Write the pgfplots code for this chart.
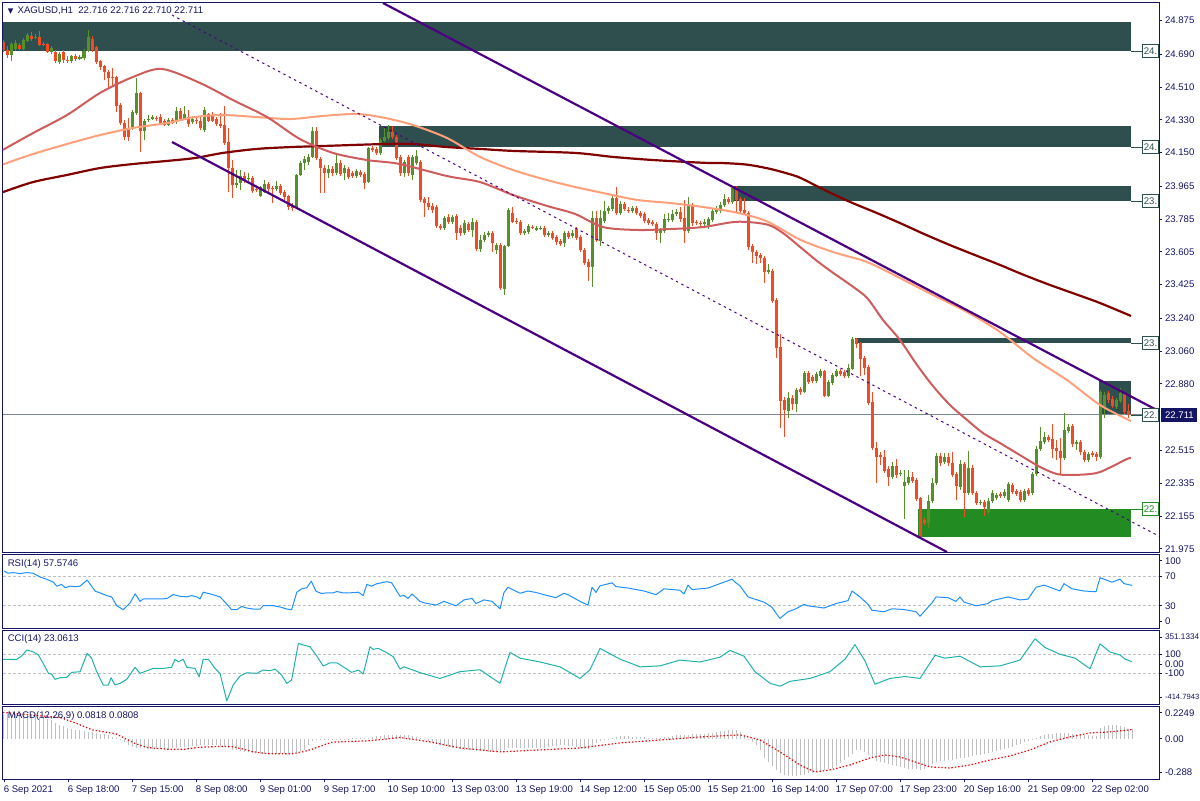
\documentclass[border=0pt]{standalone}
\usepackage{pgfplots}
\pgfplotsset{compat=1.18}
\usepackage{pgfplotstable}
\usepackage{fontspec}
\setmainfont{Liberation Sans}
\newfontfamily\dejavu{DejaVu Sans}
\definecolor{navy}{RGB}{20,20,100}
\definecolor{upc}{RGB}{85,145,40}
\definecolor{dnc}{RGB}{240,75,35}
\definecolor{maA}{RGB}{128,0,0}
\definecolor{maB}{RGB}{255,160,122}
\definecolor{maC}{RGB}{205,92,92}
\definecolor{chan}{RGB}{75,0,130}
\definecolor{slate}{RGB}{47,79,79}
\definecolor{fgreen}{RGB}{34,139,34}
\definecolor{rsic}{RGB}{30,144,255}
\definecolor{ccic}{RGB}{32,178,170}
\definecolor{histc}{RGB}{192,192,192}
\definecolor{pricel}{RGB}{119,136,153}
\newcommand{\fs}{\fontsize{4.8}{5.5}\selectfont}

\pgfplotstableread{
i o h l c
2 24.686 24.757 24.653 24.746
3 24.719 24.768 24.708 24.751
5 24.719 24.779 24.713 24.768
6 24.762 24.806 24.757 24.795
8 24.779 24.801 24.773 24.784
12 24.702 24.735 24.691 24.724
14 24.647 24.702 24.636 24.691
17 24.653 24.686 24.642 24.680
19 24.664 24.686 24.658 24.675
20 24.669 24.719 24.658 24.708
21 24.708 24.823 24.702 24.784
32 24.285 24.384 24.274 24.373
33 24.367 24.559 24.356 24.477
35 24.268 24.334 24.219 24.323
36 24.329 24.356 24.318 24.334
37 24.334 24.356 24.329 24.345
41 24.301 24.340 24.296 24.329
43 24.318 24.400 24.307 24.378
45 24.334 24.406 24.329 24.362
47 24.318 24.351 24.307 24.334
50 24.274 24.400 24.263 24.384
58 23.972 24.054 23.955 23.983
59 23.983 24.054 23.944 24.021
61 24.005 24.038 23.994 24.010
64 23.911 23.966 23.906 23.961
65 23.933 23.999 23.928 23.977
68 23.950 23.994 23.939 23.966
73 23.846 24.032 23.840 24.027
74 24.027 24.104 24.021 24.093
75 24.093 24.131 24.054 24.115
76 24.098 24.142 24.082 24.126
77 24.126 24.290 24.120 24.268
81 24.038 24.082 24.010 24.060
83 24.038 24.148 24.027 24.093
85 24.038 24.082 23.999 24.065
88 24.021 24.060 24.010 24.049
91 23.988 24.180 23.983 24.175
94 24.148 24.230 24.137 24.219
95 24.213 24.290 24.208 24.235
96 24.230 24.301 24.219 24.263
100 24.038 24.109 24.016 24.098
102 24.027 24.137 23.999 24.126
103 24.093 24.164 24.082 24.131
110 23.736 23.802 23.725 23.791
112 23.769 23.807 23.758 23.796
115 23.708 23.780 23.697 23.763
117 23.725 23.791 23.686 23.769
119 23.621 23.697 23.604 23.670
120 23.670 23.714 23.659 23.697
121 23.697 23.719 23.686 23.708
123 23.615 23.653 23.593 23.642
125 23.401 23.642 23.368 23.637
126 23.637 23.846 23.632 23.835
130 23.708 23.730 23.697 23.719
131 23.714 23.758 23.703 23.747
133 23.725 23.747 23.719 23.736
134 23.730 23.747 23.725 23.736
136 23.697 23.719 23.686 23.708
140 23.653 23.719 23.632 23.708
142 23.692 23.725 23.681 23.708
147 23.522 23.829 23.412 23.791
149 23.664 23.835 23.637 23.791
150 23.774 23.884 23.763 23.829
151 23.829 23.857 23.813 23.846
152 23.840 23.911 23.829 23.900
154 23.818 23.884 23.807 23.868
157 23.829 23.857 23.818 23.846
164 23.708 23.736 23.653 23.725
165 23.719 23.813 23.708 23.785
166 23.780 23.818 23.769 23.785
167 23.780 23.835 23.769 23.813
168 23.813 23.840 23.802 23.824
171 23.719 23.906 23.708 23.862
175 23.758 23.785 23.736 23.769
176 23.752 23.796 23.730 23.785
177 23.780 23.840 23.769 23.829
178 23.824 23.857 23.813 23.840
179 23.829 23.879 23.818 23.862
180 23.862 23.922 23.851 23.895
182 23.879 23.966 23.868 23.955
191 23.494 23.538 23.483 23.505
196 22.731 22.835 22.693 22.803
198 22.770 22.857 22.726 22.846
200 22.835 22.951 22.830 22.940
203 22.896 22.945 22.885 22.934
204 22.923 22.962 22.912 22.951
206 22.813 22.901 22.808 22.890
207 22.885 22.940 22.874 22.929
208 22.923 22.962 22.918 22.951
211 22.923 22.989 22.912 22.967
212 22.962 23.137 22.956 23.126
222 22.369 22.451 22.358 22.429
224 22.385 22.407 22.374 22.391
225 22.319 22.407 22.138 22.341
226 22.336 22.407 22.325 22.369
231 22.116 22.270 22.089 22.237
232 22.237 22.363 22.226 22.336
233 22.336 22.501 22.325 22.484
235 22.451 22.501 22.440 22.479
239 22.314 22.462 22.297 22.440
241 22.281 22.512 22.270 22.418
244 22.226 22.243 22.215 22.232
246 22.177 22.253 22.166 22.237
247 22.237 22.297 22.226 22.281
248 22.253 22.281 22.243 22.270
250 22.264 22.303 22.253 22.286
251 22.243 22.341 22.232 22.330
255 22.243 22.303 22.232 22.292
257 22.281 22.396 22.270 22.385
258 22.385 22.539 22.374 22.523
259 22.523 22.643 22.512 22.566
260 22.561 22.616 22.550 22.588
265 22.473 22.720 22.462 22.627
266 22.621 22.660 22.610 22.643
268 22.550 22.572 22.517 22.561
271 22.462 22.506 22.451 22.495
274 22.479 22.846 22.468 22.835
275 22.753 22.835 22.693 22.819
278 22.753 22.803 22.742 22.792
279 22.786 22.857 22.775 22.830
}\up

\pgfplotstableread{
i o h l c
0 24.757 24.768 24.702 24.713
1 24.713 24.735 24.669 24.686
4 24.740 24.751 24.713 24.719
7 24.790 24.812 24.762 24.773
9 24.784 24.817 24.735 24.740
10 24.746 24.757 24.735 24.740
11 24.746 24.751 24.697 24.702
13 24.702 24.713 24.642 24.653
15 24.702 24.713 24.642 24.658
16 24.658 24.680 24.642 24.653
18 24.680 24.691 24.653 24.664
22 24.773 24.790 24.702 24.713
23 24.730 24.735 24.636 24.647
24 24.653 24.658 24.603 24.620
25 24.625 24.631 24.548 24.592
26 24.592 24.603 24.504 24.559
27 24.565 24.614 24.515 24.559
28 24.565 24.570 24.373 24.406
29 24.411 24.422 24.301 24.312
30 24.312 24.329 24.219 24.235
31 24.285 24.340 24.213 24.235
34 24.477 24.482 24.153 24.268
38 24.340 24.351 24.323 24.334
39 24.345 24.362 24.301 24.312
40 24.323 24.334 24.296 24.301
42 24.329 24.340 24.307 24.312
44 24.378 24.395 24.323 24.334
46 24.345 24.384 24.290 24.307
48 24.329 24.340 24.307 24.323
49 24.323 24.345 24.274 24.285
51 24.362 24.367 24.318 24.323
52 24.356 24.373 24.318 24.323
53 24.334 24.345 24.296 24.307
54 24.307 24.367 24.285 24.296
55 24.301 24.406 24.191 24.202
56 24.208 24.285 23.933 24.065
57 24.065 24.109 23.900 23.972
60 24.021 24.043 23.983 23.994
62 24.010 24.021 23.928 23.939
63 23.950 23.966 23.933 23.944
66 23.977 23.988 23.933 23.950
67 23.955 23.966 23.873 23.950
69 23.966 23.977 23.917 23.928
70 23.933 23.944 23.884 23.906
71 23.911 23.917 23.835 23.851
72 23.862 23.873 23.829 23.846
78 24.268 24.290 24.109 24.120
79 24.115 24.126 23.928 24.065
80 24.065 24.082 23.928 24.038
82 24.060 24.076 24.021 24.038
84 24.093 24.109 24.021 24.032
86 24.060 24.071 24.005 24.016
87 24.038 24.049 24.010 24.021
89 24.043 24.054 24.016 24.027
90 24.032 24.043 23.950 23.983
92 24.175 24.186 24.153 24.164
93 24.170 24.180 24.137 24.148
97 24.263 24.296 24.224 24.235
98 24.235 24.246 24.109 24.120
99 24.126 24.137 24.021 24.038
101 24.126 24.137 24.021 24.038
104 24.098 24.109 23.879 23.890
105 23.895 23.906 23.796 23.873
106 23.873 23.906 23.835 23.851
107 23.857 23.873 23.818 23.835
108 23.851 23.862 23.736 23.747
109 23.747 23.758 23.725 23.736
111 23.796 23.813 23.758 23.769
113 23.802 23.813 23.670 23.708
114 23.736 23.752 23.692 23.708
116 23.758 23.769 23.714 23.725
118 23.769 23.780 23.610 23.621
122 23.708 23.719 23.604 23.653
124 23.642 23.653 23.395 23.406
127 23.818 23.851 23.763 23.769
128 23.774 23.791 23.758 23.769
129 23.769 23.780 23.697 23.708
132 23.741 23.752 23.730 23.736
135 23.736 23.747 23.686 23.697
137 23.708 23.719 23.670 23.681
138 23.686 23.697 23.642 23.659
139 23.664 23.675 23.637 23.648
141 23.708 23.719 23.675 23.686
143 23.730 23.741 23.670 23.681
144 23.686 23.697 23.604 23.615
145 23.615 23.626 23.533 23.544
146 23.549 23.566 23.445 23.522
148 23.791 23.829 23.659 23.670
153 23.900 23.961 23.807 23.818
155 23.868 23.879 23.829 23.840
156 23.835 23.851 23.818 23.829
158 23.846 23.857 23.807 23.818
159 23.818 23.829 23.791 23.802
160 23.813 23.824 23.763 23.774
161 23.780 23.791 23.752 23.763
162 23.769 23.780 23.747 23.758
163 23.758 23.769 23.670 23.708
169 23.824 23.851 23.769 23.785
170 23.791 23.890 23.653 23.719
172 23.862 23.873 23.747 23.763
173 23.769 23.780 23.752 23.763
174 23.763 23.774 23.741 23.758
181 23.895 23.906 23.868 23.879
183 23.955 23.966 23.824 23.890
184 23.895 23.906 23.818 23.829
185 23.835 23.900 23.807 23.818
186 23.818 23.829 23.615 23.632
187 23.637 23.648 23.544 23.604
188 23.604 23.615 23.538 23.582
189 23.588 23.599 23.544 23.571
190 23.571 23.582 23.434 23.494
192 23.500 23.511 23.324 23.335
193 23.341 23.352 23.022 23.077
194 23.082 23.154 22.638 22.786
195 22.792 22.808 22.588 22.737
197 22.803 22.819 22.737 22.770
199 22.852 22.863 22.819 22.835
201 22.940 22.951 22.879 22.890
202 22.918 22.929 22.885 22.896
205 22.951 22.956 22.808 22.813
209 22.951 22.962 22.923 22.934
210 22.945 22.956 22.912 22.923
213 23.126 23.132 23.077 23.099
214 23.104 23.110 22.923 23.017
215 23.022 23.033 22.929 22.967
216 22.973 22.984 22.764 22.775
217 22.781 22.835 22.517 22.528
218 22.528 22.561 22.336 22.479
219 22.490 22.506 22.435 22.479
220 22.479 22.517 22.391 22.402
221 22.413 22.429 22.319 22.369
223 22.429 22.468 22.363 22.380
227 22.369 22.396 22.336 22.347
228 22.352 22.363 22.237 22.248
229 22.253 22.259 22.028 22.039
230 22.133 22.144 22.105 22.116
234 22.484 22.501 22.429 22.446
236 22.479 22.501 22.429 22.446
237 22.446 22.506 22.369 22.380
238 22.385 22.396 22.243 22.319
240 22.440 22.451 22.149 22.281
242 22.418 22.435 22.270 22.281
243 22.281 22.292 22.215 22.226
245 22.232 22.243 22.155 22.204
249 22.275 22.286 22.253 22.264
252 22.325 22.336 22.275 22.286
253 22.292 22.303 22.264 22.275
254 22.286 22.297 22.232 22.243
256 22.297 22.308 22.264 22.275
261 22.588 22.599 22.561 22.572
262 22.577 22.660 22.473 22.523
263 22.528 22.572 22.462 22.512
264 22.512 22.583 22.380 22.473
267 22.649 22.660 22.534 22.550
269 22.561 22.572 22.490 22.506
270 22.506 22.517 22.451 22.462
272 22.501 22.512 22.479 22.490
273 22.495 22.506 22.457 22.479
276 22.830 22.841 22.775 22.792
277 22.797 22.813 22.748 22.759
280 22.824 22.835 22.715 22.726
281 22.731 22.770 22.693 22.709
282 22.716 22.716 22.710 22.711
}\dn

\pgfplotstableread{
i p
-0.25 23.933
7.25 23.988
15.75 24.027
24 24.065
32.25 24.087
40.75 24.104
47.75 24.120
54.75 24.148
63.25 24.170
71.5 24.180
79.75 24.186
95.25 24.197
102.25 24.197
110.75 24.180
119 24.170
127.25 24.159
142.75 24.148
152.25 24.126
162.25 24.109
174.75 24.094
180 24.092
184.75 24.086
188 24.076
192 24.058
196 24.034
199 24.012
205 23.946
211.5 23.879
218 23.820
224 23.763
230 23.703
236.5 23.642
243 23.585
249 23.533
255 23.478
261.5 23.423
268 23.372
274 23.324
281.75 23.253
}\maAt

\pgfplotstableread{
i p
-0.25 24.085
7.25 24.142
15.75 24.197
24 24.246
32.25 24.285
40.75 24.312
47.75 24.345
54.75 24.356
63.25 24.345
71.5 24.334
79.75 24.351
88.25 24.362
95.25 24.340
102.25 24.301
110.75 24.230
119 24.126
127.25 24.054
135.75 23.999
142.75 23.961
149.75 23.928
158.25 23.890
166.5 23.873
174.75 23.851
183.25 23.820
190.75 23.772
199 23.672
207.25 23.604
215.75 23.549
224 23.461
232.25 23.368
240.75 23.275
249 23.165
257.25 23.022
265.75 22.901
274 22.764
281.75 22.676
}\maBt

\pgfplotstableread{
i p
-0.25 24.165
7.25 24.257
15.75 24.356
24 24.477
32.25 24.565
39.5 24.609
49 24.532
57.25 24.438
65.75 24.345
74 24.224
82.25 24.148
90.75 24.109
99 24.087
110.75 24.021
119 23.988
127.25 23.917
135.75 23.857
142.75 23.813
149.75 23.741
158.25 23.725
166.5 23.730
174.75 23.741
183.25 23.770
190.75 23.755
194.75 23.708
199 23.632
203.25 23.555
207.25 23.490
211.5 23.425
215.75 23.352
219.75 23.231
224 23.121
228.25 22.984
232.25 22.868
236.5 22.764
240.75 22.682
244.75 22.610
249 22.555
254.75 22.479
259 22.424
263.25 22.385
267.25 22.380
271.5 22.385
274 22.396
277.25 22.429
280.75 22.468
281.75 22.473
}\maCt

\begin{document}
\begin{tikzpicture}
\path[use as bounding box] (0,0) rectangle (600pt,-400pt);
\pgfplotsset{panel/.style={scale only axis, width=578pt, xmin=-0.25, xmax=288.75,
  anchor=north west, axis line style={navy,line width=0.5pt}, xtick=\empty,
  ytick pos=right, yticklabel pos=right, tick align=outside, major tick length=1.6pt,
  every tick/.style={navy,line width=0.4pt}, ticklabel style={font=\fs, text=navy},
  yticklabel style={inner sep=0pt, xshift=1.2pt, anchor=west}}}

% ---------------- main price panel
\begin{axis}[panel, at={(1.5pt,-1pt)}, height=275pt, ymin=21.957, ymax=24.9765,
  ytick={24.875,24.690,24.510,24.330,24.150,23.965,23.785,23.605,23.425,23.240,23.060,22.880,22.515,22.335,22.155,21.975},
  yticklabels={24.875,24.690,24.510,24.330,24.150,23.965,23.785,23.605,23.425,23.240,23.060,22.880,22.515,22.335,22.155,21.975}]
\addplot[draw=none, fill=slate, forget plot] coordinates {(-0.25,24.867) (281.75,24.867) (281.75,24.708) (-0.25,24.708)} -- cycle;
\addplot[draw=none, fill=slate, forget plot] coordinates {(93.75,24.296) (281.75,24.296) (281.75,24.180) (93.75,24.180)} -- cycle;
\addplot[draw=none, fill=slate, forget plot] coordinates {(182.25,23.966) (281.75,23.966) (281.75,23.884) (182.25,23.884)} -- cycle;
\addplot[draw=none, fill=slate, forget plot] coordinates {(212.75,23.132) (281.75,23.132) (281.75,23.104) (212.75,23.104)} -- cycle;
\addplot[draw=none, fill=fgreen, forget plot] coordinates {(228.5,22.193) (281.75,22.193) (281.75,22.039) (228.5,22.039)} -- cycle;
\addplot[draw=none, fill=slate, forget plot] coordinates {(273.75,22.896) (281.75,22.896) (281.75,22.709) (273.75,22.709)} -- cycle;
\addplot[pricel, line width=0.5pt, forget plot] coordinates {(-0.25,22.711) (288.75,22.711)};
% candles
\addplot[draw=none, mark=none, forget plot, error bars/.cd, y dir=both, y explicit, error mark=none,
  error bar style={draw=upc, line width=0.5pt}]
  table[x=i, y=c, y error plus expr=\thisrow{h}-\thisrow{c}, y error minus expr=\thisrow{c}-\thisrow{l}] {\up};
\addplot[draw=none, mark=none, forget plot, error bars/.cd, y dir=both, y explicit, error mark=none,
  error bar style={draw=dnc, line width=0.5pt}]
  table[x=i, y=c, y error plus expr=\thisrow{h}-\thisrow{c}, y error minus expr=\thisrow{c}-\thisrow{l}] {\dn};
\addplot[draw=none, mark=none, forget plot, error bars/.cd, y dir=minus, y explicit, error mark=none,
  error bar style={draw=upc, line width=1.5pt}]
  table[x=i, y=c, y error expr=\thisrow{c}-\thisrow{o}] {\up};
\addplot[draw=none, mark=none, forget plot, error bars/.cd, y dir=plus, y explicit, error mark=none,
  error bar style={draw=dnc, line width=1.5pt}]
  table[x=i, y=c, y error expr=\thisrow{o}-\thisrow{c}] {\dn};
% moving averages
\addplot[maA, line width=1.1pt, smooth, tension=0.5] table[x=i, y=p] {\maAt};
\addplot[maB, line width=1pt, smooth, tension=0.5] table[x=i, y=p] {\maBt};
\addplot[maC, line width=1pt, smooth, tension=0.5] table[x=i, y=p] {\maCt};
% channel
\addplot[chan, line width=1.1pt] coordinates {(94.75,24.971) (288.75,22.730)};
\addplot[chan, line width=1.1pt] coordinates {(42,24.208) (235.75,21.957)};
\addplot[chan, line width=0.5pt, dash pattern=on 1.2pt off 1.8pt] coordinates {(42,24.905) (288.75,22.044)};
\end{axis}

% ---------------- RSI
\begin{axis}[panel, at={(1.5pt,-277pt)}, height=37pt, ymin=0, ymax=100,
  ytick={90.8,70,30,9.6}, yticklabels={100,70,30,0}]
\addplot[histc, line width=0.4pt, dash pattern=on 1.5pt off 1pt] coordinates {(-0.25,70) (288.75,70)};
\addplot[histc, line width=0.4pt, dash pattern=on 1.5pt off 1pt] coordinates {(-0.25,30) (288.75,30)};
\addplot[rsic, line width=0.5pt, line join=round] coordinates {
(0,77.1)(1,74)(2.3,74.9)(4,73.6)(5.7,74.9)(7.3,74)(9,68.9)(10.7,65.8)(12.3,62.1)(13.2,56.6)(14.4,58.9)(15.3,54.4)(16.5,56.6)(17.8,55.8)(19,56.6)(20.8,64.8)(22.8,49.7)(24,47.5)(25.7,43.8)(26.9,42.1)(28.2,30.1)(29.8,24.7)(31.5,33.8)(32.8,46.2)(34,36)(34.8,39.3)(37.3,39.3)(38.6,39.3)(40.7,39.7)(42.3,45.2)(44,42.9)(45.7,42.1)(46.9,43.8)(48.2,42.1)(49,39.3)(49.8,48.4)(51.5,46.2)(54,42.1)(55.3,34.7)(56.9,24.7)(58.2,24.7)(59.4,29.2)(60.7,27)(62.3,25.6)(64,25.6)(64.8,30.1)(67.3,30.1)(69,28.4)(70.7,25.6)(71.9,24.7)(73.2,48.4)(74.4,53)(75.7,54.4)(76.8,63.4)(78,49.7)(79.4,46.6)(80.7,47.5)(82.3,47.5)(83.2,49.3)(84.8,47.5)(86.5,47.5)(88.6,48.4)(89.8,43.8)(90.7,58.9)(91.9,56.6)(93.2,59.9)(95.7,62.6)(96.9,61.2)(99,42.9)
(100,44)(101,40)(102,46)(104,36)(105,34)(108,31)(110,36)(113,30)(115,38)(117,40)(118,33)(120,38)(122,36)(124,26)(125,48)(126,55)(129,47)(131,50)(133,48)(135,45)(138,41)(140,47)(141,45)(144,36)(146,31)(147,55)(148,48)(149,57)(152,61)(153,56)(156,54)(160,50)(163,45)(165,53)(169,51)(170,46)(171,58)(172,52)(176,54)(178,58)(180,62)(182,66)(183,61)(184,57)(186,42)(190,35)(192,28)(193,20)(194,13)(196,22)(198,26)(200,32)(201,30)(205,27)(208,33)(211,37)(212,50)(214,42)(216,32)(217,24)(220,22)(222,26)(225,25)(228,22)(229,16)(231,28)(232,34)(233,42)(236,41)(238,36)(239,42)(240,35)(243,30)(246,33)(247,37)(251,42)(254,38)(256,39)(257,47)(258,55)(260,58)(262,54)(264,50)(265,60)(267,53)(270,50)(273,49)(274,68)(276,64)(277,62)(279,66)(280,60)(282,57.6)};
\end{axis}

% ---------------- CCI
\begin{axis}[panel, at={(1.5pt,-315pt)}, height=37pt, ymin=-414.79, ymax=351.13,
  ytick={278,100,0,-100,-343},
  yticklabels={{\fontsize{4.1}{5}\selectfont 351.1334},100,0.00,-100,{\fontsize{3.8}{5}\selectfont -414.7943}}]
\addplot[histc, line width=0.4pt, dash pattern=on 1.5pt off 1pt] coordinates {(-0.25,100) (288.75,100)};
\addplot[histc, line width=0.4pt, dash pattern=on 1.5pt off 1pt] coordinates {(-0.25,-100) (288.75,-100)};
\addplot[ccic, line width=0.5pt, line join=round] coordinates {
(-0.25,48)(3.2,48)(4.4,82)(5.7,144)(7.3,126)(8.6,92)(9.8,6)(11.1,-97)(11.9,-105)(12.75,-159)(14,-143)(15.7,-139)(16.9,-87)(19,-81)(20.8,110)(21.9,58)(23.2,-81)(24.8,-218)(26.1,-218)(26.75,-143)(27.75,-218)(29,-201)(30.7,-159)(32.75,-35)(34,-97)(37.3,-46)(39.8,-46)(41.9,-35)(42.75,48)(43.6,23)(44.8,48)(45.7,-35)(47.75,-46)(48.8,-133)(49.8,48)(51.1,48)(52.75,-46)(54,-97)(55.7,-381)(57.3,-218)(59,-125)(60.7,-91)(63.2,-97)(64.8,-63)(66.5,-70)(67.75,-53)(69.4,-115)(70.7,-201)(71.9,-167)(73.6,213)(74.8,196)(76.5,178)(78.2,82)(79.8,-22)(81.5,12)(83.2,12)(84.8,-29)(86.9,-87)(88.6,-63)(89.8,-105)(91.5,178)(92.3,151)(93.6,161)(95.7,116)(97.3,75)(99,-53)
(100,-30)(104,-90)(109,-150)(114,-80)(119,-60)(124,-200)(126.5,120)(129,60)(134,20)(139,-30)(144,-150)(146.5,-60)(149,160)(154,50)(159,-30)(164,-20)(169,40)(174,20)(179,70)(181.5,140)(185,80)(187.75,-80)(191.5,-200)(194,-230)(196.5,-180)(201.5,-150)(206.5,-80)(210.25,50)(212.75,200)(215.25,30)(217.75,-210)(221.5,-150)(225.25,-130)(229,-150)(232.75,90)(235.25,60)(239,80)(244,-30)(249,-20)(254,40)(257.75,260)(260.25,170)(264,100)(267.75,60)(271.5,-50)(274,208)(276.5,124)(279,93)(280.25,50)(282,23)};
\end{axis}

% ---------------- MACD
\begin{axis}[panel, at={(1.5pt,-353pt)}, height=36.5pt, ymin=-0.349, ymax=0.286,
  ytick={0.227,0,-0.288}, yticklabels={0.2249,0.00,-0.288},
  xtick={0,16,...,272}, xtick pos=left,
  xticklabels={6 Sep 2021,6 Sep 18:00,7 Sep 15:00,8 Sep 08:00,9 Sep 01:00,9 Sep 17:00,10 Sep 10:00,13 Sep 03:00,13 Sep 19:00,14 Sep 12:00,15 Sep 05:00,15 Sep 21:00,16 Sep 14:00,17 Sep 07:00,17 Sep 23:00,20 Sep 16:00,21 Sep 09:00,22 Sep 02:00},
  xticklabel style={anchor=north west, inner sep=0pt, yshift=-1.6pt, xshift=-0.3pt}]
\addplot[ycomb, histc, line width=0.5pt] coordinates {
(0,0.22)(1,0.22)(2,0.22)(3,0.22)(4,0.22)(5,0.22)(6,0.215)(7,0.21)(8,0.20)(9,0.19)
(10,0.18)(11,0.17)(12,0.16)(13,0.137)(14,0.125)(15,0.112)(16,0.099)(17,0.09)(18,0.079)(19,0.074)
(20,0.069)(21,0.064)(22,0.056)(23,0.049)(24,0.044)(25,0.04)(26,0.035)(27,0.02)(28,0.01)(29,0.002)
(30,-0.025)(31,-0.049)(32,-0.07)(33,-0.075)(34,-0.079)(35,-0.083)(36,-0.087)(37,-0.087)(38,-0.087)(39,-0.086)
(40,-0.085)(41,-0.084)(42,-0.08)(43,-0.076)(44,-0.073)(45,-0.07)(46,-0.067)(47,-0.064)(48,-0.06)(49,-0.055)
(50,-0.05)(51,-0.049)(52,-0.052)(53,-0.055)(54,-0.058)(55,-0.07)(56,-0.082)(57,-0.093)(58,-0.1)(59,-0.106)
(60,-0.111)(61,-0.116)(62,-0.12)(63,-0.124)(64,-0.128)(65,-0.128)(66,-0.128)(67,-0.128)(68,-0.128)(69,-0.128)
(70,-0.128)(71,-0.128)(72,-0.122)(73,-0.116)(74,-0.105)(75,-0.093)(76,-0.049)(77,-0.02)(78,-0.006)(79,-0.004)
(80,-0.002)(81,0.001)(82,0.001)(83,0.001)(84,0.002)(85,0.002)(86,0.003)(87,0.004)(88,0.005)(89,0.006)
(90,0.008)(91,0.009)(92,0.015)(93,0.022)(94,0.028)(95,0.035)(96,0.036)(97,0.037)(98,0.038)(99,0.038)
(100,0.035)(101,0.03)(102,0.025)(103,0.018)(104,0.009)(105,-0.005)(106,-0.02)(107,-0.03)(108,-0.04)(109,-0.052)
(110,-0.06)(111,-0.068)(112,-0.075)(113,-0.082)(114,-0.088)(115,-0.093)(116,-0.096)(117,-0.1)(118,-0.103)(119,-0.106)
(120,-0.108)(121,-0.11)(122,-0.111)(123,-0.112)(124,-0.113)(125,-0.095)(126,-0.08)(127,-0.08)(128,-0.08)(129,-0.08)
(130,-0.08)(131,-0.079)(132,-0.079)(133,-0.079)(134,-0.079)(135,-0.075)(136,-0.07)(137,-0.064)(138,-0.058)(139,-0.052)
(140,-0.055)(141,-0.06)(142,-0.066)(143,-0.073)(144,-0.079)(145,-0.085)(146,-0.088)(147,-0.06)(148,-0.04)(149,-0.02)
(150,-0.009)(151,0.002)(152,0.01)(153,0.018)(154,0.026)(155,0.024)(156,0.022)(157,0.02)(158,0.018)(159,0.016)
(160,0.014)(161,0.012)(162,0.01)(163,0.009)(164,0.009)(165,0.015)(166,0.02)(167,0.025)(168,0.03)(169,0.032)
(170,0.032)(171,0.038)(172,0.04)(173,0.042)(174,0.044)(175,0.046)(176,0.05)(177,0.055)(178,0.06)(179,0.065)
(180,0.07)(181,0.075)(182,0.079)(183,0.077)(184,0.06)(185,0.035)(186,0.002)(187,-0.03)(188,-0.052)(189,-0.1)
(190,-0.166)(191,-0.2)(192,-0.24)(193,-0.27)(194,-0.3)(195,-0.315)(196,-0.323)(197,-0.322)(198,-0.32)(199,-0.314)
(200,-0.31)(201,-0.3)(202,-0.294)(203,-0.288)(204,-0.28)(205,-0.27)(206,-0.26)(207,-0.253)(208,-0.24)(209,-0.21)
(210,-0.183)(211,-0.16)(212,-0.13)(213,-0.096)(214,-0.1)(215,-0.113)(216,-0.14)(217,-0.17)(218,-0.19)(219,-0.2)
(220,-0.21)(221,-0.22)(222,-0.227)(223,-0.235)(224,-0.243)(225,-0.253)(226,-0.258)(227,-0.262)(228,-0.266)(229,-0.27)
(230,-0.26)(231,-0.24)(232,-0.22)(233,-0.2)(234,-0.195)(235,-0.19)(236,-0.186)(237,-0.183)(238,-0.177)(239,-0.17)
(240,-0.163)(241,-0.157)(242,-0.15)(243,-0.143)(244,-0.136)(245,-0.129)(246,-0.122)(247,-0.115)(248,-0.106)(249,-0.097)
(250,-0.088)(251,-0.079)(252,-0.07)(253,-0.055)(254,-0.042)(255,-0.03)(256,-0.017)(257,-0.005)(258,0.01)(259,0.022)
(260,0.035)(261,0.04)(262,0.045)(263,0.05)(264,0.052)(265,0.05)(266,0.048)(267,0.045)(268,0.04)(269,0.035)
(270,0.033)(271,0.03)(272,0.028)(273,0.026)(274,0.096)(275,0.11)(276,0.12)(277,0.122)(278,0.118)(279,0.113)
(280,0.1)(281,0.09)(282,0.082)};
\addplot[red, line width=0.6pt, dash pattern=on 0.7pt off 1pt] coordinates {
(-0.25,0.230)(14,0.186)(18,0.137)(22,0.079)(26,0.055)(28,0.044)(31,-0.009)(33,-0.044)(36,-0.076)(41,-0.09)(45,-0.09)(49,-0.073)(53,-0.067)(57,-0.067)(60,-0.09)(62,-0.11)(66,-0.13)(72,-0.13)(75,-0.11)(77,-0.09)(80,-0.052)(82,-0.029)(86,-0.023)(91,-0.017)(95,-0.003)(99,0.012)(106.5,-0.026)(114,-0.079)(124,-0.113)(134,-0.096)(144,-0.079)(154,-0.035)(164,-0.009)(174,0.017)(184,0.035)(189,-0.009)(194,-0.113)(199,-0.227)(202.75,-0.288)(206.5,-0.27)(211.5,-0.227)(216.5,-0.166)(220.25,-0.14)(224,-0.157)(227.75,-0.2)(231.5,-0.244)(236.5,-0.253)(241.5,-0.227)(246.5,-0.183)(251.5,-0.148)(256.5,-0.096)(261.5,-0.026)(266.5,0.017)(271.5,0.052)(276.5,0.061)(282,0.081)};
\end{axis}

% ---------------- texts and price labels
\node[anchor=west, inner sep=0pt, text=navy, font=\dejavu\fontsize{3.6}{4}\selectfont] at (3.8pt,-5.6pt) {▼};
\node[anchor=west, inner sep=0pt, text=navy, font=\fs] at (8.6pt,-5.6pt) {XAGUSD,H1\ \ 22.716 22.716 22.710 22.711};
\node[anchor=west, inner sep=0pt, text=navy, font=\fs] at (3.7pt,-282pt) {RSI(14) 57.5746};
\node[anchor=west, inner sep=0pt, text=navy, font=\fs] at (3.7pt,-319.7pt) {CCI(14) 23.0613};
\node[anchor=west, inner sep=0pt, text=navy, font=\fs] at (3.7pt,-357.8pt) {MACD(12,26,9) 0.0818 0.0808};
\foreach \yy/\tt in {25.5/24., 73.5/24., 100.5/23., 171.5/23., 207.5/22.}{
  \draw[slate, line width=0.5pt] (565.5pt,-\yy pt) -- (571pt,-\yy pt);
  \node[draw=slate, line width=0.5pt, fill=white, text=slate, font=\fs, inner sep=0pt,
    minimum width=8pt, minimum height=6.8pt, anchor=west] at (571pt,-\yy pt) {\tt};
}
\draw[fgreen, line width=0.5pt] (565.5pt,-254.5pt) -- (571pt,-254.5pt);
\node[draw=fgreen, line width=0.5pt, fill=white, text=fgreen, font=\fs, inner sep=0pt,
  minimum width=8pt, minimum height=6.8pt, anchor=west] at (571pt,-254.5pt) {22.};
\node[fill=navy, text=white, font=\fs, inner sep=0pt, minimum width=18pt, minimum height=7pt, anchor=west] at (580.5pt,-207.5pt) {22.711};
\end{tikzpicture}
\end{document}
